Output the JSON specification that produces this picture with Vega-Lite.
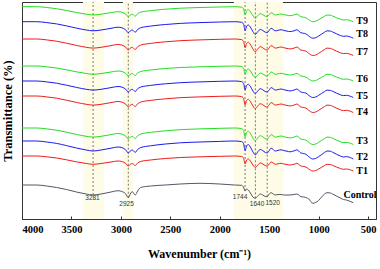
{
"$schema": "https://vega.github.io/schema/vega-lite/v6.json",
"width": 354, "height": 217,
"autosize": "none",
"padding": {"left": 22, "top": 2, "right": 4, "bottom": 50},
"background": "white",
"config": {"view": {"stroke": "#333", "strokeWidth": 1}, "font": "Liberation Serif, Times New Roman, DejaVu Serif, serif"},
"datasets": {
"spec": [
{"w":4000,"T9":212.3,"T8":197.3,"T7":180,"T6":153,"T5":138,"T4":123,"T3":91,"T2":78,"T1":63,"Control":34},
{"w":3850,"T9":212.3,"T8":197.3,"T7":180,"T6":153,"T5":138,"T4":123,"T3":91,"T2":78,"T1":63,"Control":34},
{"w":3750,"T9":211.5,"T8":196.4,"T7":179.1,"T6":152.2,"T5":137.1,"T4":122.1,"T3":90.1,"T2":77,"T1":62.2,"Control":33},
{"w":3650,"T9":210.3,"T8":195.1,"T7":177.8,"T6":151,"T5":135.8,"T4":120.8,"T3":88.8,"T2":75.6,"T1":61,"Control":31.5},
{"w":3550,"T9":208.5,"T8":193.1,"T7":175.8,"T6":149.2,"T5":133.8,"T4":118.8,"T3":86.8,"T2":73.4,"T1":59.2,"Control":29.5},
{"w":3450,"T9":206.5,"T8":190.9,"T7":173.6,"T6":147.2,"T5":131.6,"T4":116.6,"T3":84.6,"T2":71,"T1":57.2,"Control":27},
{"w":3350,"T9":204.8,"T8":189,"T7":171.7,"T6":145.5,"T5":129.7,"T4":114.7,"T3":82.7,"T2":69,"T1":55.5,"Control":25},
{"w":3281,"T9":204,"T8":188.2,"T7":170.9,"T6":144.7,"T5":128.9,"T4":113.9,"T3":81.9,"T2":68,"T1":54.7,"Control":24},
{"w":3200,"T9":204.8,"T8":189,"T7":171.7,"T6":145.5,"T5":129.7,"T4":114.7,"T3":82.7,"T2":69,"T1":55.5,"Control":25},
{"w":3100,"T9":206.3,"T8":190.7,"T7":173.4,"T6":147,"T5":131.4,"T4":116.4,"T3":84.4,"T2":70.8,"T1":57,"Control":27},
{"w":3030,"T9":207.3,"T8":191.8,"T7":174.5,"T6":148,"T5":132.5,"T4":117.5,"T3":85.5,"T2":72,"T1":58,"Control":28.3},
{"w":2990,"T9":206.8,"T8":191.2,"T7":173.9,"T6":147.5,"T5":131.9,"T4":116.9,"T3":84.9,"T2":71.4,"T1":57.5,"Control":27.5},
{"w":2950,"T9":204.8,"T8":189,"T7":171.7,"T6":145.5,"T5":129.7,"T4":114.7,"T3":82.7,"T2":69,"T1":55.5,"Control":25},
{"w":2925,"T9":202.3,"T8":186.3,"T7":169,"T6":143,"T5":127,"T4":112,"T3":80,"T2":66,"T1":53,"Control":21.3},
{"w":2900,"T9":204.3,"T8":188.5,"T7":171.2,"T6":145,"T5":129.2,"T4":114.2,"T3":82.2,"T2":68.4,"T1":55,"Control":26},
{"w":2885,"T9":204.8,"T8":189,"T7":171.7,"T6":145.5,"T5":129.7,"T4":114.7,"T3":82.7,"T2":69,"T1":55.5,"Control":27.3},
{"w":2855,"T9":202.8,"T8":186.8,"T7":169.5,"T6":143.5,"T5":127.5,"T4":112.5,"T3":80.5,"T2":66.6,"T1":53.5,"Control":24},
{"w":2830,"T9":205.3,"T8":189.6,"T7":172.3,"T6":146,"T5":130.3,"T4":115.3,"T3":83.3,"T2":69.6,"T1":56,"Control":28},
{"w":2800,"T9":206.8,"T8":191.2,"T7":173.9,"T6":147.5,"T5":131.9,"T4":116.9,"T3":84.9,"T2":71.4,"T1":57.5,"Control":31.5},
{"w":2700,"T9":208.3,"T8":192.9,"T7":175.6,"T6":149,"T5":133.6,"T4":118.6,"T3":86.6,"T2":73.2,"T1":59,"Control":33},
{"w":2550,"T9":209.8,"T8":194.5,"T7":177.2,"T6":150.5,"T5":135.2,"T4":120.2,"T3":88.2,"T2":75,"T1":60.5,"Control":34},
{"w":2400,"T9":210.8,"T8":195.6,"T7":178.3,"T6":151.5,"T5":136.3,"T4":121.3,"T3":89.3,"T2":76.2,"T1":61.5,"Control":35},
{"w":2200,"T9":211.5,"T8":196.4,"T7":179.1,"T6":152.2,"T5":137.1,"T4":122.1,"T3":90.1,"T2":77,"T1":62.2,"Control":35.7},
{"w":2000,"T9":212,"T8":197,"T7":179.7,"T6":152.7,"T5":137.7,"T4":122.7,"T3":90.7,"T2":77.6,"T1":62.7,"Control":35},
{"w":1850,"T9":212.3,"T8":197.3,"T7":180,"T6":153,"T5":138,"T4":123,"T3":91,"T2":78,"T1":63,"Control":34},
{"w":1780,"T9":211.8,"T8":196.7,"T7":179.4,"T6":152.5,"T5":137.4,"T4":122.4,"T3":90.4,"T2":77.4,"T1":62.5,"Control":33.7},
{"w":1760,"T9":210.3,"T8":195.1,"T7":177.8,"T6":151,"T5":135.8,"T4":120.8,"T3":88.8,"T2":75.6,"T1":61,"Control":32},
{"w":1744,"T9":204.3,"T8":188.5,"T7":171.2,"T6":145,"T5":129.2,"T4":114.2,"T3":82.2,"T2":68.4,"T1":55,"Control":28},
{"w":1728,"T9":208.3,"T8":192.9,"T7":175.6,"T6":149,"T5":133.6,"T4":118.6,"T3":86.6,"T2":73.2,"T1":59,"Control":30},
{"w":1712,"T9":209.3,"T8":194,"T7":176.7,"T6":150,"T5":134.7,"T4":119.7,"T3":87.7,"T2":74.4,"T1":60,"Control":29},
{"w":1690,"T9":207.3,"T8":191.8,"T7":174.5,"T6":148,"T5":132.5,"T4":117.5,"T3":85.5,"T2":72,"T1":58,"Control":26},
{"w":1665,"T9":203.3,"T8":187.4,"T7":170.1,"T6":144,"T5":128.1,"T4":113.1,"T3":81.1,"T2":67.2,"T1":54,"Control":22},
{"w":1640,"T9":200.8,"T8":184.6,"T7":167.3,"T6":141.5,"T5":125.3,"T4":110.3,"T3":78.3,"T2":64.2,"T1":51.5,"Control":20.7},
{"w":1615,"T9":203.3,"T8":187.4,"T7":170.1,"T6":144,"T5":128.1,"T4":113.1,"T3":81.1,"T2":67.2,"T1":54,"Control":23},
{"w":1590,"T9":205.3,"T8":189.6,"T7":172.3,"T6":146,"T5":130.3,"T4":115.3,"T3":83.3,"T2":69.6,"T1":56,"Control":25},
{"w":1565,"T9":204.3,"T8":188.5,"T7":171.2,"T6":145,"T5":129.2,"T4":114.2,"T3":82.2,"T2":68.4,"T1":55,"Control":24},
{"w":1540,"T9":202.8,"T8":186.8,"T7":169.5,"T6":143.5,"T5":127.5,"T4":112.5,"T3":80.5,"T2":66.6,"T1":53.5,"Control":22.5},
{"w":1520,"T9":202.3,"T8":186.3,"T7":169,"T6":143,"T5":127,"T4":112,"T3":80,"T2":66,"T1":53,"Control":22.3},
{"w":1500,"T9":204.3,"T8":188.5,"T7":171.2,"T6":145,"T5":129.2,"T4":114.2,"T3":82.2,"T2":68.4,"T1":55,"Control":25},
{"w":1480,"T9":206.3,"T8":190.7,"T7":173.4,"T6":147,"T5":131.4,"T4":116.4,"T3":84.4,"T2":70.8,"T1":57,"Control":26.3},
{"w":1460,"T9":205.3,"T8":189.6,"T7":172.3,"T6":146,"T5":130.3,"T4":115.3,"T3":83.3,"T2":69.6,"T1":56,"Control":25},
{"w":1440,"T9":204,"T8":188.2,"T7":170.9,"T6":144.7,"T5":128.9,"T4":113.9,"T3":81.9,"T2":68,"T1":54.7,"Control":24},
{"w":1410,"T9":204.5,"T8":188.7,"T7":171.4,"T6":145.2,"T5":129.4,"T4":114.4,"T3":82.4,"T2":68.6,"T1":55.2,"Control":24.5},
{"w":1380,"T9":205,"T8":189.3,"T7":172,"T6":145.7,"T5":130,"T4":115,"T3":83,"T2":69.2,"T1":55.7,"Control":24.5},
{"w":1350,"T9":204.3,"T8":188.5,"T7":171.2,"T6":145,"T5":129.2,"T4":114.2,"T3":82.2,"T2":68.4,"T1":55,"Control":24},
{"w":1320,"T9":203.8,"T8":187.9,"T7":170.6,"T6":144.5,"T5":128.6,"T4":113.6,"T3":81.6,"T2":67.8,"T1":54.5,"Control":24},
{"w":1290,"T9":203.3,"T8":187.4,"T7":170.1,"T6":144,"T5":128.1,"T4":113.1,"T3":81.1,"T2":67.2,"T1":54,"Control":24},
{"w":1260,"T9":203.8,"T8":187.9,"T7":170.6,"T6":144.5,"T5":128.6,"T4":113.6,"T3":81.6,"T2":67.8,"T1":54.5,"Control":24.3},
{"w":1240,"T9":204.3,"T8":188.5,"T7":171.2,"T6":145,"T5":129.2,"T4":114.2,"T3":82.2,"T2":68.4,"T1":55,"Control":24.7},
{"w":1220,"T9":205,"T8":189.3,"T7":172,"T6":145.7,"T5":130,"T4":115,"T3":83,"T2":69.2,"T1":55.7,"Control":25},
{"w":1200,"T9":203.8,"T8":187.9,"T7":170.6,"T6":144.5,"T5":128.6,"T4":113.6,"T3":81.6,"T2":67.8,"T1":54.5,"Control":24},
{"w":1180,"T9":202.3,"T8":186.3,"T7":169,"T6":143,"T5":127,"T4":112,"T3":80,"T2":66,"T1":53,"Control":22.3},
{"w":1150,"T9":201.8,"T8":185.7,"T7":168.4,"T6":142.5,"T5":126.4,"T4":111.4,"T3":79.4,"T2":65.4,"T1":52.5,"Control":22},
{"w":1130,"T9":201.3,"T8":185.2,"T7":167.9,"T6":142,"T5":125.9,"T4":110.9,"T3":78.9,"T2":64.8,"T1":52,"Control":21.5},
{"w":1100,"T9":199.3,"T8":183,"T7":165.7,"T6":140,"T5":123.7,"T4":108.7,"T3":76.7,"T2":62.4,"T1":50,"Control":20},
{"w":1060,"T9":197.3,"T8":180.8,"T7":163.5,"T6":138,"T5":121.5,"T4":106.5,"T3":74.5,"T2":60,"T1":48,"Control":15.7},
{"w":1030,"T9":197.8,"T8":181.3,"T7":164,"T6":138.5,"T5":122,"T4":107,"T3":75,"T2":60.6,"T1":48.5,"Control":16.5},
{"w":1000,"T9":199.3,"T8":183,"T7":165.7,"T6":140,"T5":123.7,"T4":108.7,"T3":76.7,"T2":62.4,"T1":50,"Control":18.5},
{"w":970,"T9":201,"T8":184.9,"T7":167.6,"T6":141.7,"T5":125.6,"T4":110.6,"T3":78.6,"T2":64.4,"T1":51.7,"Control":22},
{"w":940,"T9":202.8,"T8":186.8,"T7":169.5,"T6":143.5,"T5":127.5,"T4":112.5,"T3":80.5,"T2":66.6,"T1":53.5,"Control":25},
{"w":915,"T9":204,"T8":188.2,"T7":170.9,"T6":144.7,"T5":128.9,"T4":113.9,"T3":81.9,"T2":68,"T1":54.7,"Control":26.3},
{"w":880,"T9":203.8,"T8":187.9,"T7":170.6,"T6":144.5,"T5":128.6,"T4":113.6,"T3":81.6,"T2":67.8,"T1":54.5,"Control":26},
{"w":860,"T9":203,"T8":187.1,"T7":169.8,"T6":143.7,"T5":127.8,"T4":112.8,"T3":80.8,"T2":66.8,"T1":53.7,"Control":25},
{"w":820,"T9":201.3,"T8":185.2,"T7":167.9,"T6":142,"T5":125.9,"T4":110.9,"T3":78.9,"T2":64.8,"T1":52,"Control":23},
{"w":780,"T9":199.8,"T8":183.5,"T7":166.2,"T6":140.5,"T5":124.2,"T4":109.2,"T3":77.2,"T2":63,"T1":50.5,"Control":21},
{"w":750,"T9":199,"T8":182.7,"T7":165.4,"T6":139.7,"T5":123.4,"T4":108.4,"T3":76.4,"T2":62,"T1":49.7,"Control":19.5},
{"w":720,"T9":199.3,"T8":183,"T7":165.7,"T6":140,"T5":123.7,"T4":108.7,"T3":76.7,"T2":62.4,"T1":50,"Control":19},
{"w":690,"T9":198.8,"T8":182.4,"T7":165.1,"T6":139.5,"T5":123.1,"T4":108.1,"T3":76.1,"T2":61.8,"T1":49.5,"Control":18},
{"w":650,"T9":197.3,"T8":180.8,"T7":163.5,"T6":138,"T5":121.5,"T4":106.5,"T3":74.5,"T2":60,"T1":48,"Control":16.3}
],
"bands": [{"a":3383,"b":3171},{"a":2979,"b":2878},{"a":1857,"b":1361}],
"peaks": [
{"w":3281,"lo":24,"hi":217,"lab":"3281","lw":3287,"lv":21},
{"w":2925,"lo":21.3,"hi":217,"lab":"2925","lw":2943,"lv":15},
{"w":1744,"lo":28,"hi":217,"lab":"1744","lw":1795,"lv":22.3},
{"w":1640,"lo":20.7,"hi":217,"lab":"1640","lw":1623,"lv":15},
{"w":1520,"lo":22.3,"hi":217,"lab":"1520","lw":1465,"lv":16}
],
"labels": [
{"s":"T9","w":561,"v":198.3},
{"s":"T8","w":561,"v":184.7},
{"s":"T7","w":561,"v":167.3},
{"s":"T6","w":561,"v":139.7},
{"s":"T5","w":561,"v":123},
{"s":"T4","w":561,"v":107.3},
{"s":"T3","w":561,"v":78},
{"s":"T2","w":561,"v":62.3},
{"s":"T1","w":561,"v":48},
{"s":"Control","w":581,"v":24}
]
},
"layer": [
{
"data": {"name": "bands"},
"mark": {"type": "rect", "color": "#fefce6"},
"encoding": {
"x": {"field": "a", "type": "quantitative", "scale": {"domain": [420, 4000], "reverse": true, "nice": false, "zero": false},
"axis": {"values": [4000,3500,3000,2500,2000,1500,1000,500], "format": "d", "grid": false, "domainColor": "#333", "tickColor": "#333", "tickSize": -3, "labelPadding": 8, "labelFont": "Liberation Serif, Times New Roman, serif", "labelFontWeight": "bold", "labelFontSize": 10.5, "labelColor": "#000", "title": "Wavenumber (cm⁻¹)", "titleFont": "Liberation Serif, Times New Roman, serif", "titleFontWeight": "bold", "titleFontSize": 12, "titleColor": "#000", "titleY": 34, "titleBaseline": "middle"}},
"x2": {"field": "b"}
}
},
{
"data": {"name": "peaks"},
"mark": {"type": "rule", "color": "#555", "strokeWidth": 0.8, "strokeDash": [2, 2]},
"encoding": {
"x": {"field": "w", "type": "quantitative"},
"y": {"field": "lo", "type": "quantitative", "scale": {"domain": [0, 217], "nice": false, "zero": false},
"axis": {"labels": false, "ticks": false, "grid": false, "domainColor": "#333", "title": "Transmittance (%)", "titleFont": "Liberation Serif, Times New Roman, serif", "titleFontWeight": "bold", "titleFontSize": 12.5, "titleColor": "#000", "titleX": -14.5, "titleY": 108.5, "titleAngle": 270, "titleBaseline": "middle", "titleAlign": "center"}},
"y2": {"field": "hi"}
}
},
{
"data": {"name": "spec"},
"transform": [{"fold": ["T9","T8","T7","T6","T5","T4","T3","T2","T1","Control"], "as": ["s", "v"]}],
"mark": {"type": "line", "strokeWidth": 1, "interpolate": "monotone"},
"encoding": {
"x": {"field": "w", "type": "quantitative"},
"y": {"field": "v", "type": "quantitative"},
"detail": {"field": "s"},
"color": {"field": "s", "type": "nominal", "legend": null,
"scale": {"domain": ["T9","T8","T7","T6","T5","T4","T3","T2","T1","Control"],
"range": ["#22dd22","#1a1af0","#f01a1a","#22dd22","#1a1af0","#f01a1a","#22dd22","#1a1af0","#f01a1a","#555566"]}}
}
},
{
"data": {"name": "peaks"},
"mark": {"type": "text", "font": "Liberation Sans, Arial, sans-serif", "fontSize": 6.5, "color": "#333", "baseline": "middle", "align": "center"},
"encoding": {
"x": {"field": "lw", "type": "quantitative"},
"y": {"field": "lv", "type": "quantitative"},
"text": {"field": "lab"}
}
},
{
"data": {"name": "labels"},
"mark": {"type": "text", "font": "Liberation Serif, Times New Roman, serif", "fontWeight": "bold", "fontSize": 10, "color": "#000", "baseline": "middle", "align": "center"},
"encoding": {
"x": {"field": "w", "type": "quantitative"},
"y": {"field": "v", "type": "quantitative"},
"text": {"field": "s"}
}
}
]
}
